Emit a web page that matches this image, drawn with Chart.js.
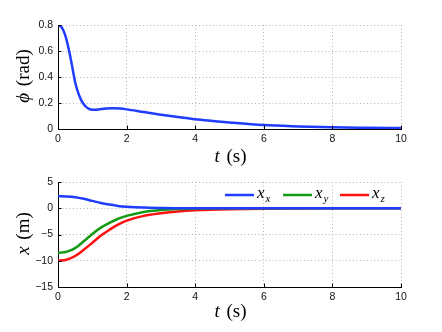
<!DOCTYPE html>
<html><head><meta charset="utf-8">
<script src="https://cdn.jsdelivr.net/npm/chart.js@4/dist/chart.umd.min.js"></script>
<style>
html,body{margin:0;padding:0;background:#fff;}
#wrap{position:relative;width:442px;height:332px;}
canvas{position:absolute;left:0;}
</style></head>
<body><div id="wrap">
<canvas id="c1" width="442" height="166" style="top:0"></canvas>
<canvas id="c2" width="442" height="166" style="top:166px"></canvas>
</div>
<script>
// ---- data ----
const phiTime   = [0,0.1,0.2,0.3,0.4,0.5,0.6,0.7,0.8,0.9,1.0,1.1,1.2,1.4,1.6,1.8,2.0,2.5,3,3.5,4,4.5,5,6,7,8,9,10];
const phiValues = [0.8,0.785,0.73,0.63,0.5,0.36,0.27,0.21,0.175,0.155,0.148,0.148,0.151,0.157,0.16,0.157,0.151,0.13,0.11,0.092,0.075,0.062,0.05,0.03,0.02,0.013,0.01,0.008];

const posTime  = [0,0.25,0.5,0.75,1,1.25,1.5,1.75,2,2.5,3,3.5,4,5,6,7,8,9,10];
const xxValues = [2.3,2.25,2.1,1.8,1.4,1.0,0.7,0.45,0.3,0.12,0.05,0.02,0.01,0,0,0,0,0,0];
const xyValues = [-8.5,-8.3,-7.6,-6.3,-4.9,-3.7,-2.8,-2.0,-1.45,-0.7,-0.35,-0.15,-0.07,0,0,0,0,0,0];
const xzValues = [-10,-9.8,-9.1,-7.9,-6.6,-5.2,-4.1,-3.1,-2.35,-1.45,-0.95,-0.6,-0.4,-0.2,-0.1,-0.05,-0.02,-0.01,0];

const seriesLabels = [["x","x"],["x","y"],["x","z"]];
const xTicks = [0,2,4,6,8,10];
const phiTicks = [0,0.2,0.4,0.6,0.8];
const posTicks = [-15,-10,-5,0,5];

const BLUE = '#1f3cff', GREEN = '#149a14', RED = '#ff1010';
const pts = (xs, ys) => xs.map((x,i)=>({x, y: ys[i]}));

const tickFont = {family:'"Liberation Sans", Arial, sans-serif', size:10.5};
const gridOpts = {color:'#b4b4b4', lineWidth:1, drawTicks:false};

function xScale(){
  return {type:'linear', min:0, max:10,
    afterBuildTicks: s => { s.ticks = xTicks.map(v=>({value:v})); },
    ticks:{font:tickFont, color:'#111', padding:4, maxRotation:0},
    grid:gridOpts, border:{display:true,color:'#000',width:1,dash:[1,2.5]}};
}
function yScale(min,max,vals,fmt,width){
  return {type:'linear', min, max,
    afterBuildTicks: s => { s.ticks = vals.map(v=>({value:v})); },
    afterFit: s => { s.width = width; },
    ticks:{font:tickFont, color:'#111', padding:5, callback: fmt},
    grid:gridOpts, border:{display:true,color:'#000',width:1,dash:[1,2.5]}};
}

const decor = {
  id:'decor',
  afterDraw(chart, args, o){
    const ctx = chart.ctx, a = chart.chartArea, xs = chart.scales.x, ys = chart.scales.y;
    ctx.save();
    // inward ticks
    ctx.strokeStyle='#000'; ctx.lineWidth=1;
    xs.ticks.forEach(t=>{ const p=Math.round(xs.getPixelForValue(t.value))+0.5;
      ctx.beginPath(); ctx.moveTo(p,a.bottom); ctx.lineTo(p,a.bottom-3.5); ctx.stroke(); });
    ys.ticks.forEach(t=>{ const p=Math.round(ys.getPixelForValue(t.value))+0.5;
      ctx.beginPath(); ctx.moveTo(a.left,p); ctx.lineTo(a.left+3.5,p); ctx.stroke(); });
    // x title: t (s)
    ctx.fillStyle='#000'; ctx.textBaseline='middle';
    const cx = (a.left+a.right)/2, ty = o.xTitleY;
    const it = 'italic 19px "Liberation Serif", serif', up = '19px "Liberation Serif", serif';
    ctx.font = it; const w1 = ctx.measureText('t').width;
    ctx.font = up; const w2 = ctx.measureText(' (s)').width;
    let sx = cx - (w1+w2)/2;
    ctx.textAlign='left';
    ctx.font = it; ctx.fillText('t', sx, ty);
    ctx.font = up; ctx.fillText(' (s)', sx+w1+2, ty);
    // y title rotated
    ctx.translate(o.yTitleX, (a.top+a.bottom)/2);
    ctx.rotate(-Math.PI/2);
    ctx.font = it; const v1 = ctx.measureText(o.ySym).width;
    ctx.font = up; const v2 = ctx.measureText(' ('+o.yUnit+')').width;
    let vx = -(v1+v2)/2;
    ctx.font = it; ctx.fillText(o.ySym, vx, 0);
    ctx.font = up; ctx.fillText(' ('+o.yUnit+')', vx+v1+2, 0);
    ctx.restore();
    // legend
    if (o.legend){
      ctx.save();
      const starts = [225,283,340], ly = a.top + 13;
      chart.data.datasets.forEach((ds,i)=>{
        const x0 = starts[i];
        ctx.strokeStyle = ds.borderColor; ctx.lineWidth = 2.5;
        ctx.beginPath(); ctx.moveTo(x0,ly); ctx.lineTo(x0+29,ly); ctx.stroke();
        const lab = seriesLabels[i];
        ctx.fillStyle='#000'; ctx.textBaseline='middle'; ctx.textAlign='left';
        ctx.font = 'italic 17px "Liberation Serif", serif';
        ctx.fillText(lab[0], x0+32, ly-1);
        const w = ctx.measureText(lab[0]).width;
        ctx.font = 'italic 11px "Liberation Serif", serif';
        ctx.fillText(lab[1], x0+32+w+1, ly+4);
      });
      ctx.restore();
    }
  }
};

const common = {responsive:false, animation:false, devicePixelRatio:1,
  plugins:{legend:{display:false}, tooltip:{enabled:false}}};

new Chart(document.getElementById('c1'), {
  type:'line',
  data:{datasets:[{label:'phi', data:pts(phiTime,phiValues), borderColor:BLUE, borderWidth:2.5,
    pointRadius:0, cubicInterpolationMode:'monotone', fill:false}]},
  options:{...common,
    layout:{padding:{top:25,right:41,left:0,bottom:0}},
    scales:{x:{...xScale(), afterFit: s=>{ s.height=37; }},
            y:yScale(0,0.8,phiTicks, v=> v===0?'0':v.toFixed(1), 58)},
    plugins:{...common.plugins, decor:{xTitleY:157, yTitleX:24, ySym:'\u03D5', yUnit:'rad', legend:false}}},
  plugins:[decor]
});

new Chart(document.getElementById('c2'), {
  type:'line',
  data:{datasets:[
    {label:'x_x', data:pts(posTime,xxValues), borderColor:BLUE, borderWidth:2.5, pointRadius:0, cubicInterpolationMode:'monotone', fill:false},
    {label:'x_y', data:pts(posTime,xyValues), borderColor:GREEN, borderWidth:2.5, pointRadius:0, cubicInterpolationMode:'monotone', fill:false},
    {label:'x_z', data:pts(posTime,xzValues), borderColor:RED, borderWidth:2.5, pointRadius:0, cubicInterpolationMode:'monotone', fill:false}
  ]},
  options:{...common,
    layout:{padding:{top:16,right:41,left:0,bottom:0}},
    scales:{x:{...xScale(), afterFit: s=>{ s.height=45; }},
            y:yScale(-15,5,posTicks, v=> v<0 ? '\u2212'+Math.abs(v) : String(v), 58)},
    plugins:{...common.plugins, decor:{xTitleY:146, yTitleX:24, ySym:'x', yUnit:'m', legend:true}}},
  plugins:[decor]
});
</script>
</body></html>
